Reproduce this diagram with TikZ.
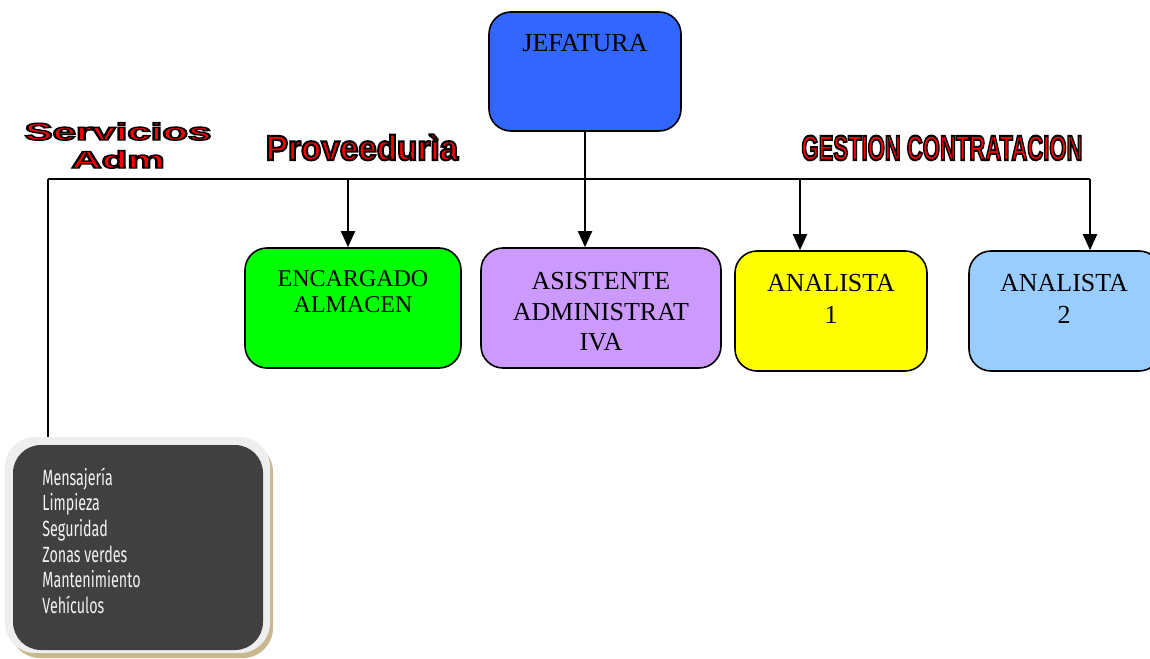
\documentclass[tikz,border=0pt]{standalone}
\usepackage{fontspec}
\usepackage{graphicx}
\setmainfont{Liberation Serif}
\newfontfamily\agency[FakeStretch=0.65]{Fira Sans}
\newfontfamily\heavyol[FakeBold=6]{Liberation Sans Bold}
\usetikzlibrary{arrows.meta}
\definecolor{jefblue}{HTML}{3366FF}
\definecolor{encgreen}{HTML}{00FF00}
\definecolor{asispurple}{HTML}{CC99FF}
\definecolor{anyellow}{HTML}{FFFF00}
\definecolor{anblue}{HTML}{99CCFF}
\definecolor{servdark}{HTML}{404040}
\definecolor{servframe}{HTML}{EEEEEE}
\definecolor{servtan}{HTML}{C8B78C}
\definecolor{servtext}{HTML}{F2F2F2}
\newcommand{\outl}[1]{\special{color push rgb 1 0 0}\special{pdf:literal direct 0 0 0 RG}#1\special{color pop}}
\begin{document}
\begin{tikzpicture}[x=0.5pt,y=-0.5pt,
  box/.style={draw=black, line width=0.8pt, rounded corners=11pt, inner sep=0pt},
  lbl/.style={inner sep=0pt, align=center, anchor=north},
  arr/.style={line width=1pt, -{Triangle[width=7pt,length=8pt]}},
  ln/.style={line width=1pt},
  ttl/.style={inner sep=0pt, anchor=base}]
\useasboundingbox (0,0) rectangle (1150,658);

% boxes
\node[box, fill=jefblue, minimum width=96pt, minimum height=59.5pt] (jef) at (585,71.5) {};
\node[lbl, font=\fontsize{13}{15.5}\selectfont] (jeft) at (585,34) {JEFATURA};

\node[box, fill=encgreen, minimum width=108pt, minimum height=60pt] (enc) at (353,308) {};
\node[lbl, font=\fontsize{12}{13}\selectfont] (enct) at (353,270) {ENCARGADO\\ALMACEN};

\node[box, fill=asispurple, minimum width=120pt, minimum height=60pt] (asis) at (601,308) {};
\node[lbl, font=\fontsize{13}{15.25}\selectfont] (asist) at (601,272) {ASISTENTE\\ADMINISTRAT\\IVA};

\node[box, fill=anyellow, minimum width=96pt, minimum height=60pt] (an1) at (831,311) {};
\node[lbl, font=\fontsize{13}{16}\selectfont] (an1t) at (831,274) {ANALISTA\\1};

\node[box, fill=anblue, minimum width=96pt, minimum height=60pt] (an2) at (1065,311) {};
\node[lbl, font=\fontsize{13}{16}\selectfont] (an2t) at (1064,274) {ANALISTA\\2};

% connectors
\coordinate (hl) at (48,179);
\coordinate (hr) at (1090,179);
\coordinate (c1) at (348,179);
\coordinate (c2) at (800,179);
\draw[ln] (hl) -- (hr);
\draw[arr] (c1) -- (c1 |- enc.north);
\draw[arr] (c2) -- (c2 |- an1.north);
\draw[arr] (hr) -- (hr |- an2.north);
\draw[arr] (jef.south) -- (jef.south |- asis.north);

% servicios box
\node[fill=servtan, rounded corners=15pt, minimum width=131.5pt, minimum height=108pt, inner sep=0pt] (servshadow) at (141.5,550) {};
\node[fill=servframe, rounded corners=15pt, minimum width=132.5pt, minimum height=108pt, inner sep=0pt] (servfr) at (137.5,545) {};
\node[fill=servdark, rounded corners=14pt, minimum width=125pt, minimum height=102.5pt, inner sep=0pt] (serv) at (138,547.5) {};
\draw[ln] (hl) -- (hl |- servfr.north);
\node[anchor=north west, inner sep=0pt, align=left, text=servtext, font=\agency\fontsize{11}{12.85}\selectfont] (servt) at (42,467) {Mensajería\\Limpieza\\Seguridad\\Zonas verdes\\Mantenimiento\\Vehículos};

% titles
\node[ttl, font=\heavyol\fontsize{12}{14}\selectfont] (sa) at (118,140) {\scalebox{1.75}[1]{\outl{Servicios}}};
\node[ttl, font=\heavyol\fontsize{12}{14}\selectfont] (sb) at (118,168) {\scalebox{1.75}[1]{\outl{Adm}}};
\node[ttl, font=\heavyol\fontsize{17.5}{20}\selectfont] (prov) at (362,160) {\scalebox{0.95}[1]{\outl{Proveedurìa}}};
\node[ttl, font=\heavyol\fontsize{17.5}{20}\selectfont] (gest) at (942,160) {\scalebox{0.63}[1]{\outl{GESTION CONTRATACION}}};
\end{tikzpicture}
\end{document}
